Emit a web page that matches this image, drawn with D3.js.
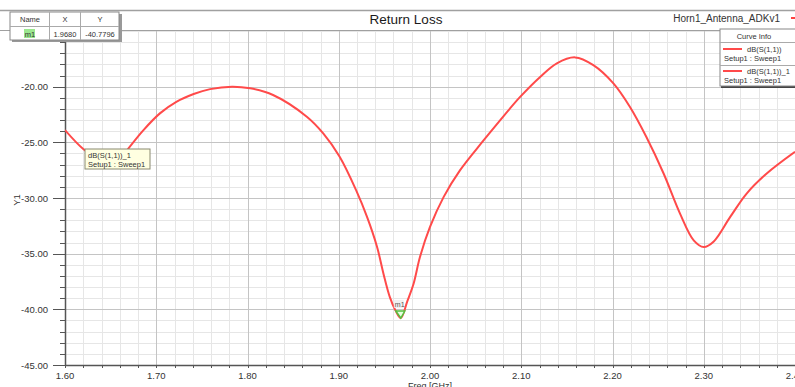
<!DOCTYPE html>
<html><head><meta charset="utf-8">
<script src="https://cdn.jsdelivr.net/npm/d3@7/dist/d3.min.js"></script>
<style>
html,body{margin:0;padding:0;background:#fff;}
svg{display:block;font-family:"Liberation Sans",Arial,sans-serif;}
</style></head>
<body>
<svg id="c" width="795" height="387"></svg>
<script>
const freq = [1.60,1.62,1.64,1.65,1.66,1.67,1.686,1.704,1.722,1.741,1.759,1.783,1.803,1.828,1.865,1.883,1.901,1.919,1.931,1.942,1.949,1.956,1.962,1.968,1.975,1.982,1.989,2.00,2.015,2.033,2.058,2.077,2.099,2.121,2.139,2.159,2.179,2.201,2.219,2.237,2.256,2.274,2.289,2.30,2.311,2.329,2.347,2.369,2.40];
const s11 = [-23.9,-25.6,-26.7,-26.9,-26.6,-25.5,-23.9,-22.4,-21.36,-20.66,-20.22,-20.0,-20.15,-20.75,-22.7,-24.2,-26.3,-29.3,-31.7,-34.4,-36.8,-38.9,-40.07,-40.78,-39.3,-37.7,-35.3,-32.6,-29.9,-27.5,-24.9,-23.0,-20.9,-19.1,-17.9,-17.37,-18.06,-19.7,-21.8,-24.5,-27.8,-31.4,-33.8,-34.4,-33.9,-31.7,-29.6,-27.8,-25.85];
const xTicks = [1.60,1.70,1.80,1.90,2.00,2.10,2.20,2.30,2.40];
const yTicks = [-45,-40,-35,-30,-25,-20];
const marker = {name:"m1", x:1.9680, y:-40.7796};
const curveNames = ["dB(S(1,1))","dB(S(1,1))_1"];
const setupName = "Setup1 : Sweep1";

const svg = d3.select("#c");
const L=65, R=795, T=31, B=365;
const x = d3.scaleLinear().domain([1.6,2.4]).range([L,R]);
const y = d3.scaleLinear().domain([-45,-15]).range([B,T]);

// title bar
svg.append("line").attr("x1",0).attr("x2",795).attr("y1",10.5).attr("y2",10.5).attr("stroke","#a0a0a0").attr("stroke-width",1.5);
svg.append("line").attr("x1",0).attr("x2",795).attr("y1",30.5).attr("y2",30.5).attr("stroke","#a0a0a0");
svg.append("text").attr("x",406).attr("y",23.5).attr("text-anchor","middle").attr("font-size",13.5).attr("font-weight",500).attr("fill","#1a1a1a").text("Return Loss");
svg.append("text").attr("x",780).attr("y",22).attr("text-anchor","end").attr("font-size",10).attr("fill","#333").text("Horn1_Antenna_ADKv1");
svg.append("line").attr("x1",791).attr("x2",795).attr("y1",18).attr("y2",18).attr("stroke","#ff4040").attr("stroke-width",2);

// grid
const g = svg.append("g");
const minorX = d3.range(0,41).map(i=>1.6+i*0.02);
const minorY = d3.range(-45,-14,1);
g.selectAll(".mx").data(minorX).join("line").attr("x1",d=>Math.round(x(d))+0.5).attr("x2",d=>Math.round(x(d))+0.5).attr("y1",T).attr("y2",B).attr("stroke","#e6e6e6");
g.selectAll(".my").data(minorY).join("line").attr("y1",d=>Math.round(y(d))+0.5).attr("y2",d=>Math.round(y(d))+0.5).attr("x1",L).attr("x2",R).attr("stroke","#e6e6e6");
g.selectAll(".Mx").data(xTicks).join("line").attr("x1",d=>Math.round(x(d))+0.5).attr("x2",d=>Math.round(x(d))+0.5).attr("y1",T).attr("y2",B).attr("stroke","#c4c4c4");
g.selectAll(".My").data(yTicks).join("line").attr("y1",d=>Math.round(y(d))+0.5).attr("y2",d=>Math.round(y(d))+0.5).attr("x1",L).attr("x2",R).attr("stroke","#c4c4c4");

// axes
const axC="#555";
svg.append("line").attr("x1",L+0.5).attr("x2",L+0.5).attr("y1",T).attr("y2",B+1).attr("stroke",axC).attr("stroke-width",1.5);
svg.append("line").attr("x1",L).attr("x2",R).attr("y1",B+0.5).attr("y2",B+0.5).attr("stroke",axC).attr("stroke-width",1.5);
svg.selectAll(".yt").data(minorY).join("line").attr("x1",d=>yTicks.includes(d)?53:60).attr("x2",L).attr("y1",d=>Math.round(y(d))+0.5).attr("y2",d=>Math.round(y(d))+0.5).attr("stroke",axC);
svg.selectAll(".ytl").data(yTicks).join("text").attr("x",48).attr("y",d=>y(d)+3.5).attr("text-anchor","end").attr("font-size",9.5).attr("fill","#333").text(d=>d.toFixed(2));
svg.selectAll(".xt").data(minorX).join("line").attr("x1",d=>Math.round(x(d))+0.5).attr("x2",d=>Math.round(x(d))+0.5).attr("y1",B).attr("y2",B+3).attr("stroke",axC);
svg.selectAll(".xtl").data(xTicks).join("text").attr("x",d=>x(d)).attr("y",B+14).attr("text-anchor","middle").attr("font-size",9.5).attr("fill","#333").text(d=>d.toFixed(2));
svg.append("text").attr("x",430).attr("y",389).attr("text-anchor","middle").attr("font-size",9).attr("fill","#333").text("Freq [GHz]");
svg.append("text").attr("transform","translate(20,200) rotate(-90)").attr("text-anchor","middle").attr("font-size",9.5).attr("fill","#333").text("Y1");

// curve
svg.append("clipPath").attr("id","cp").append("rect").attr("x",L).attr("y",T).attr("width",R-L).attr("height",B-T);
const data = freq.map((f,i)=>[f,s11[i]]);
svg.append("path").attr("clip-path","url(#cp)").attr("d",d3.line().x(d=>x(d[0])).y(d=>y(d[1])).curve(d3.curveCatmullRom.alpha(0.5))(data))
  .attr("fill","none").attr("stroke","#ff4a4a").attr("stroke-width",2);

// marker
const mx=x(marker.x), my=y(marker.y);
svg.append("path").attr("d",`M${mx-5},${my-7}L${mx+4},${my-7}L${mx},${my}Z`).attr("fill","#e8ffe0").attr("stroke","#55c040").attr("stroke-width",1.5);
svg.append("rect").attr("x",mx-7).attr("y",my-18).attr("width",10).attr("height",8).attr("fill","#eee").attr("opacity",0.8);
svg.append("text").attr("x",mx-6).attr("y",my-11).attr("font-size",7).attr("fill","#555").text(marker.name);

// tooltip
const tt = svg.append("g").attr("transform","translate(85,149)");
tt.append("rect").attr("width",65).attr("height",20).attr("fill","#ffffe1").attr("stroke","#8a8a70");
tt.append("text").attr("x",3).attr("y",8.5).attr("font-size",7.5).attr("fill","#333").text(curveNames[1]);
tt.append("text").attr("x",3).attr("y",17.5).attr("font-size",7.5).attr("fill","#333").text(setupName);

// name table
const nt = svg.append("g").attr("transform","translate(10,12)");
nt.append("rect").attr("x",2).attr("y",2).attr("width",110).attr("height",28).attr("fill","#999");
nt.append("rect").attr("width",109).attr("height",28).attr("fill","#fff").attr("stroke","#888");
nt.append("line").attr("x1",0).attr("x2",109).attr("y1",14.5).attr("y2",14.5).attr("stroke","#aaa");
[39.5,70.5].forEach(c=>nt.append("line").attr("x1",c).attr("x2",c).attr("y1",0).attr("y2",28).attr("stroke","#aaa"));
const cols=[[20,"Name"],[55,"X"],[90,"Y"]];
cols.forEach(([cx,t])=>nt.append("text").attr("x",cx).attr("y",10).attr("text-anchor","middle").attr("font-size",7.5).attr("fill","#333").text(t));
nt.append("rect").attr("x",14).attr("y",17).attr("width",11).attr("height",9).attr("fill","#9be88f");
nt.append("text").attr("x",20).attr("y",24.5).attr("text-anchor","middle").attr("font-size",7.5).attr("fill","#333").text(marker.name);
nt.append("text").attr("x",55).attr("y",24.5).attr("text-anchor","middle").attr("font-size",7.5).attr("fill","#333").text(marker.x.toFixed(4));
nt.append("text").attr("x",90).attr("y",24.5).attr("text-anchor","middle").attr("font-size",7.5).attr("fill","#333").text(marker.y.toFixed(4));

// curve info
const ci = svg.append("g").attr("transform","translate(720,29)");
ci.append("rect").attr("x",1).attr("y",1).attr("width",80).attr("height",58).attr("fill","#444");
ci.append("rect").attr("width",80).attr("height",57).attr("fill","#fff").attr("stroke","#888");
ci.append("text").attr("x",34).attr("y",9.5).attr("text-anchor","middle").attr("font-size",7.5).attr("fill","#333").text("Curve Info");
ci.append("line").attr("x1",0).attr("x2",80).attr("y1",13.5).attr("y2",13.5).attr("stroke","#aaa");
ci.append("line").attr("x1",0).attr("x2",80).attr("y1",36.5).attr("y2",36.5).attr("stroke","#aaa");
curveNames.forEach((n,i)=>{
  const oy = 20 + i*22;
  ci.append("line").attr("x1",3).attr("x2",22).attr("y1",oy).attr("y2",oy).attr("stroke","#ff4a4a").attr("stroke-width",2);
  ci.append("text").attr("x",27).attr("y",oy+3).attr("font-size",7.5).attr("fill","#333").text(n);
  ci.append("text").attr("x",4).attr("y",oy+12).attr("font-size",7.5).attr("fill","#333").text(setupName);
});
</script>
</body></html>
